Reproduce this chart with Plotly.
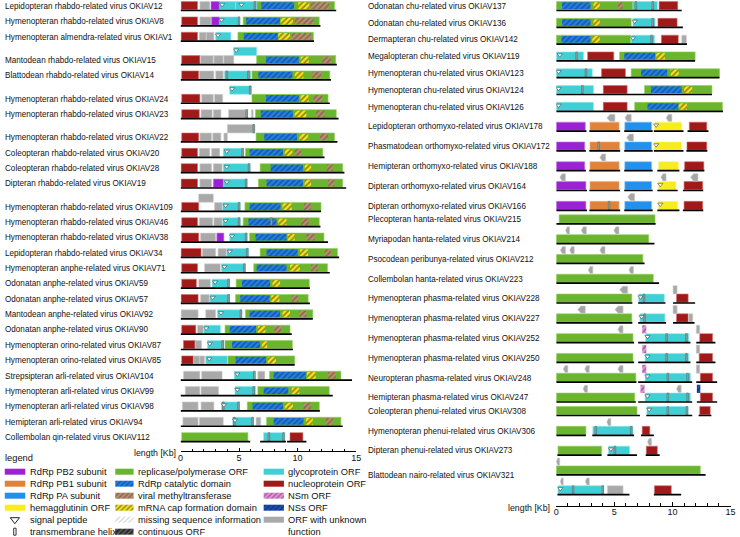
import plotly.graph_objects as go

# ----------------------------- DATA -----------------------------
LEFT_IDS = ["OKIAV12", "OKIAV8", "OKIAV1", "OKIAV15", "OKIAV14", "OKIAV24", "OKIAV23", "OKIAV22",
            "OKIAV20", "OKIAV28", "OKIAV19", "OKIAV109", "OKIAV46", "OKIAV38", "OKIAV34", "OKIAV71",
            "OKIAV59", "OKIAV57", "OKIAV92", "OKIAV90", "OKIAV87", "OKIAV85", "OKIAV104", "OKIAV99",
            "OKIAV98", "OKIAV94", "OKIAV112"]
LEFT_NAMES = ["Lepidopteran rhabdo-related virus OKIAV12", "Hymenopteran rhabdo-related virus OKIAV8",
              "Hymenopteran almendra-related virus OKIAV1", "Mantodean rhabdo-related virus OKIAV15",
              "Blattodean rhabdo-related virus OKIAV14", "Hymenopteran rhabdo-related virus OKIAV24",
              "Hymenopteran rhabdo-related virus OKIAV23", "Hymenopteran rhabdo-related virus OKIAV22",
              "Coleopteran rhabdo-related virus OKIAV20", "Coleopteran rhabdo-related virus OKIAV28",
              "Dipteran rhabdo-related virus OKIAV19", "Hymenopteran rhabdo-related virus OKIAV109",
              "Hymenopteran rhabdo-related virus OKIAV46", "Hymenopteran rhabdo-related virus OKIAV38",
              "Lepidopteran rhabdo-related virus OKIAV34", "Hymenopteran anphe-related virus OKIAV71",
              "Odonatan anphe-related virus OKIAV59", "Odonatan anphe-related virus OKIAV57",
              "Mantodean anphe-related virus OKIAV92", "Odonatan anphe-related virus OKIAV90",
              "Hymenopteran orino-related virus OKIAV87", "Hymenopteran orino-related virus OKIAV85",
              "Strepsipteran arli-related virus OKIAV104", "Hymenopteran arli-related virus OKIAV99",
              "Hymenopteran arli-related virus OKIAV98", "Hemipteran arli-related virus OKIAV94",
              "Collembolan qin-related virus OKIAV112"]
LEFT_UPPER = [0, 0, 0, 1, 0, 1, 0, 1, 0, 0, 0, 1, 0, 0, 0, 0, 0, 0, 0, 0, 0, 0, 0, 0, 0, 0, 0]

RIGHT_IDS = ["OKIAV137", "OKIAV136", "OKIAV142", "OKIAV119", "OKIAV123", "OKIAV124", "OKIAV126",
             "OKIAV178", "OKIAV172", "OKIAV188", "OKIAV164", "OKIAV166", "OKIAV215", "OKIAV214",
             "OKIAV212", "OKIAV223", "OKIAV228", "OKIAV227", "OKIAV252", "OKIAV250", "OKIAV248",
             "OKIAV247", "OKIAV308", "OKIAV306", "OKIAV273", "OKIAV321", "OKIAV321b"]
RIGHT_NAMES = ["Odonatan chu-related virus OKIAV137", "Odonatan chu-related virus OKIAV136",
               "Dermapteran chu-related virus OKIAV142", "Megalopteran chu-related virus OKIAV119",
               "Hymenopteran chu-related virus OKIAV123", "Hymenopteran chu-related virus OKIAV124",
               "Hymenopteran chu-related virus OKIAV126", "Lepidopteran orthomyxo-related virus OKIAV178",
               "Phasmatodean orthomyxo-related virus OKIAV172", "Hemipteran orthomyxo-related virus OKIAV188",
               "Dipteran orthomyxo-related virus OKIAV164", "Dipteran orthomyxo-related virus OKIAV166",
               "Plecopteran hanta-related virus OKIAV215", "Myriapodan hanta-related virus OKIAV214",
               "Psocodean peribunya-related virus OKIAV212", "Collembolan hanta-related virus OKIAV223",
               "Hymenopteran phasma-related virus OKIAV228", "Hymenopteran phasma-related virus OKIAV227",
               "Hymenopteran phasma-related virus OKIAV252", "Hymenopteran phasma-related virus OKIAV250",
               "Neuropteran phasma-related virus OKIAV248", "Hemipteran phasma-related virus OKIAV247",
               "Coleopteran phenui-related virus OKIAV308", "Hymenopteran phenui-related virus OKIAV306",
               "Dipteran phenui-related virus OKIAV273", "Blattodean nairo-related virus OKIAV321", ""]
RIGHT_UPPER = [0, 0, 0, 0, 0, 0, 0, 1, 1, 1, 1, 1, 0, 1, 1, 1, 1, 1, 1, 1, 1, 1, 0, 1, 1, 1, 1]

# genome segments (virus, start kb, end kb)
GENOME = [
    ("OKIAV12", 0, 13.3), ("OKIAV8", 0, 11.95), ("OKIAV1", 0, 11.4), ("OKIAV15", 0, 13.35),
    ("OKIAV14", 0, 12.85), ("OKIAV24", 0, 12.75), ("OKIAV23", 0, 13.5), ("OKIAV22", 0, 13.4),
    ("OKIAV20", 0, 12.3), ("OKIAV28", 0, 14.0), ("OKIAV19", 0, 14.15), ("OKIAV109", 0, 12.0),
    ("OKIAV46", 0, 11.95), ("OKIAV38", 0, 12.6), ("OKIAV34", 0, 13.55), ("OKIAV71", 0, 12.75),
    ("OKIAV59", 0, 11.05), ("OKIAV57", 0, 11.05), ("OKIAV92", 0, 11.3), ("OKIAV90", 0, 9.5),
    ("OKIAV87", 0, 9.6), ("OKIAV85", 0, 9.75), ("OKIAV104", 0, 14.65), ("OKIAV99", 0, 13.0),
    ("OKIAV98", 0, 11.9), ("OKIAV94", 0, 13.85),
    ("OKIAV112", 0, 5.95), ("OKIAV112", 6.8, 9.0), ("OKIAV112", 9.1, 10.75),
    ("OKIAV137", 0, 10.8), ("OKIAV136", 0, 10.9), ("OKIAV142", 0, 11.25), ("OKIAV119", 0, 11.95),
    ("OKIAV123", 0, 14.05), ("OKIAV124", 0, 13.4), ("OKIAV126", 0, 14.35),
    ("OKIAV178", 0, 2.6), ("OKIAV178", 2.85, 5.5), ("OKIAV178", 5.85, 8.3), ("OKIAV178", 8.4, 10.95), ("OKIAV178", 11.3, 13.1),
    ("OKIAV172", 0, 2.55), ("OKIAV172", 2.85, 5.5), ("OKIAV172", 5.85, 8.3), ("OKIAV172", 8.4, 10.95), ("OKIAV172", 11.2, 13.0),
    ("OKIAV188", 0, 2.55), ("OKIAV188", 2.85, 5.5), ("OKIAV188", 5.85, 8.3), ("OKIAV188", 8.7, 10.6), ("OKIAV188", 10.95, 12.75),
    ("OKIAV164", 0, 2.65), ("OKIAV164", 2.85, 5.5), ("OKIAV164", 5.85, 8.3), ("OKIAV164", 8.7, 10.45), ("OKIAV164", 10.9, 12.65),
    ("OKIAV166", 0, 2.65), ("OKIAV166", 2.85, 5.5), ("OKIAV166", 5.85, 8.3), ("OKIAV166", 8.7, 10.6), ("OKIAV166", 10.9, 12.65),
    ("OKIAV215", 0, 8.55), ("OKIAV214", 0, 8.45), ("OKIAV212", 0, 7.6), ("OKIAV223", 0, 8.85),
    ("OKIAV228", 0, 6.55), ("OKIAV228", 7.05, 9.4), ("OKIAV228", 10.05, 11.95),
    ("OKIAV227", 0, 6.55), ("OKIAV227", 7.05, 9.45), ("OKIAV227", 10.05, 11.9),
    ("OKIAV252", 0, 6.7), ("OKIAV252", 7.05, 11.55), ("OKIAV252", 12.05, 13.7),
    ("OKIAV250", 0, 6.7), ("OKIAV250", 7.05, 11.55), ("OKIAV250", 12.05, 13.7),
    ("OKIAV248", 0, 6.9), ("OKIAV248", 7.05, 11.7), ("OKIAV248", 12.05, 13.85),
    ("OKIAV247", 0, 6.85), ("OKIAV247", 7.05, 11.7), ("OKIAV247", 12.1, 13.85),
    ("OKIAV308", 0, 7.2), ("OKIAV308", 7.75, 11.7), ("OKIAV308", 12.25, 13.35),
    ("OKIAV306", 0, 2.55), ("OKIAV306", 3.1, 6.7), ("OKIAV306", 7.3, 8.4),
    ("OKIAV273", 0.1, 3.9), ("OKIAV273", 4.4, 6.95), ("OKIAV273", 7.7, 8.9),
    ("OKIAV321", 0, 12.85), ("OKIAV321b", 0.1, 6.3), ("OKIAV321b", 8.4, 10.75),
]

# nucleoprotein ORFs
NP_ORF = [
    ("OKIAV12", 0.05, 1.45), ("OKIAV8", 0.1, 1.45), ("OKIAV1", 0.05, 1.45), ("OKIAV15", 0.1, 1.65),
    ("OKIAV14", 0.1, 1.55), ("OKIAV24", 0.1, 1.65), ("OKIAV23", 0.1, 1.6), ("OKIAV22", 0.1, 1.55),
    ("OKIAV20", 0.1, 1.45), ("OKIAV28", 0.05, 1.45), ("OKIAV19", 0.05, 1.45), ("OKIAV109", 0.1, 1.55),
    ("OKIAV46", 0.1, 1.45), ("OKIAV38", 0.1, 1.55), ("OKIAV34", 0.05, 1.75), ("OKIAV71", 0.1, 1.45),
    ("OKIAV59", 0.1, 1.35), ("OKIAV57", 0.05, 1.5), ("OKIAV90", 0.1, 1.3), ("OKIAV87", 0.25, 1.25),
    ("OKIAV85", 0.1, 1.1), ("OKIAV112", 9.35, 10.45),
    ("OKIAV137", 8.85, 10.45), ("OKIAV136", 8.75, 10.4), ("OKIAV142", 9.05, 10.5), ("OKIAV119", 2.7, 4.95),
    ("OKIAV123", 3.9, 5.95), ("OKIAV124", 4.05, 6.1), ("OKIAV126", 4.05, 6.1), ("OKIAV178", 11.45, 12.95),
    ("OKIAV172", 11.25, 12.95), ("OKIAV188", 11.05, 12.7), ("OKIAV164", 11.0, 12.6), ("OKIAV166", 11.0, 12.6),
    ("OKIAV228", 10.35, 11.35), ("OKIAV227", 10.35, 11.35), ("OKIAV252", 12.35, 13.45),
    ("OKIAV250", 12.3, 13.45), ("OKIAV248", 12.4, 13.45), ("OKIAV247", 12.4, 13.45),
    ("OKIAV308", 12.35, 13.25), ("OKIAV306", 7.4, 8.05), ("OKIAV273", 7.75, 8.7), ("OKIAV321b", 8.45, 9.9),
]

# ORFs with unknown function (virus, start, end, lane)
UNK_ORF = [
    ("OKIAV12", 1.65, 2.5, 0), ("OKIAV8", 1.65, 2.6, 0), ("OKIAV1", 1.6, 2.2, 0), ("OKIAV1", 2.2, 2.85, 0),
    ("OKIAV15", 1.7, 2.8, 0), ("OKIAV15", 2.85, 3.65, 0), ("OKIAV15", 3.7, 4.55, 0),
    ("OKIAV14", 1.6, 2.85, 0), ("OKIAV14", 3.0, 3.65, 0), ("OKIAV24", 1.8, 2.8, 0), ("OKIAV24", 2.9, 3.6, 0),
    ("OKIAV23", 1.75, 2.7, 0), ("OKIAV23", 2.8, 3.45, 0), ("OKIAV23", 4.1, 5.75, 0), ("OKIAV23", 6.05, 6.2, 0),
    ("OKIAV22", 1.65, 2.65, 0), ("OKIAV22", 2.75, 3.45, 0), ("OKIAV22", 3.7, 4.0, 0), ("OKIAV22", 4.0, 6.35, 1),
    ("OKIAV20", 1.6, 2.5, 0), ("OKIAV20", 2.65, 3.35, 0), ("OKIAV28", 1.65, 2.65, 0), ("OKIAV28", 2.8, 3.55, 0),
    ("OKIAV19", 1.65, 2.65, 0), ("OKIAV109", 1.55, 2.8, 1), ("OKIAV109", 2.9, 3.55, 0),
    ("OKIAV46", 1.6, 2.75, 0), ("OKIAV46", 2.85, 3.55, 0), ("OKIAV38", 1.7, 3.0, 0),
    ("OKIAV34", 1.85, 3.0, 0), ("OKIAV34", 3.2, 3.9, 0), ("OKIAV71", 2.05, 3.4, 0), ("OKIAV59", 1.55, 2.55, 0),
    ("OKIAV57", 1.7, 2.45, 0), ("OKIAV92", 0.05, 1.5, 0), ("OKIAV92", 2.15, 3.0, 0), ("OKIAV90", 1.45, 1.95, 0),
    ("OKIAV87", 1.25, 1.8, 0), ("OKIAV85", 1.1, 1.65, 0), ("OKIAV85", 1.65, 2.05, 0),
    ("OKIAV104", 0.25, 1.65, 0), ("OKIAV104", 1.8, 3.55, 0), ("OKIAV104", 6.6, 7.2, 0),
    ("OKIAV99", 0.4, 1.65, 0), ("OKIAV99", 1.75, 3.25, 0), ("OKIAV98", 0.15, 1.5, 0), ("OKIAV98", 1.75, 2.85, 0),
    ("OKIAV94", 0.2, 1.5, 0), ("OKIAV94", 1.6, 3.65, 0), ("OKIAV94", 6.45, 6.85, 0),
    ("OKIAV142", 10.8, 11.2, 0), ("OKIAV227", 11.4, 11.75, 0), ("OKIAV321b", 4.4, 5.75, 0),
    ("OKIAV228", 10.05, 10.4, 1), ("OKIAV227", 10.05, 10.4, 1), ("OKIAV252", 12.05, 12.35, 1),
    ("OKIAV250", 12.05, 12.35, 1), ("OKIAV248", 12.05, 12.35, 1),
]

# glycoprotein ORFs (virus, start, end, lane)
GP_ORF = [
    ("OKIAV12", 3.3, 4.7, 0), ("OKIAV12", 4.7, 6.5, 0), ("OKIAV8", 3.3, 5.0, 0), ("OKIAV1", 3.0, 4.3, 0),
    ("OKIAV15", 4.55, 6.5, 1), ("OKIAV14", 3.75, 6.0, 0), ("OKIAV24", 4.2, 6.05, 1), ("OKIAV20", 3.65, 5.4, 0),
    ("OKIAV28", 3.65, 5.95, 0), ("OKIAV19", 3.7, 5.7, 0), ("OKIAV109", 3.6, 5.1, 0), ("OKIAV46", 3.6, 5.1, 0),
    ("OKIAV38", 4.2, 5.7, 0), ("OKIAV34", 3.95, 5.8, 0), ("OKIAV71", 3.5, 5.55, 0), ("OKIAV59", 2.7, 4.2, 0),
    ("OKIAV57", 2.5, 4.2, 0), ("OKIAV92", 3.15, 5.25, 0), ("OKIAV90", 2.0, 3.4, 0), ("OKIAV87", 2.3, 3.7, 0),
    ("OKIAV85", 2.15, 4.0, 0), ("OKIAV104", 4.6, 6.4, 0), ("OKIAV99", 4.65, 6.4, 0), ("OKIAV98", 3.5, 5.05, 0),
    ("OKIAV94", 4.45, 6.25, 0), ("OKIAV112", 7.1, 8.9, 0),
    ("OKIAV137", 6.6, 8.7, 0), ("OKIAV136", 6.6, 8.5, 0), ("OKIAV142", 6.45, 8.45, 0), ("OKIAV119", 0.0, 2.35, 0),
    ("OKIAV123", 0.0, 3.1, 0), ("OKIAV124", 0.0, 3.2, 0), ("OKIAV126", 0.0, 3.2, 0), ("OKIAV228", 7.1, 9.3, 0),
    ("OKIAV227", 7.2, 9.35, 0), ("OKIAV252", 7.7, 11.4, 0), ("OKIAV250", 7.65, 11.4, 0), ("OKIAV248", 7.65, 11.55, 0),
    ("OKIAV247", 7.65, 11.55, 0), ("OKIAV308", 7.8, 11.35, 0), ("OKIAV306", 3.15, 6.6, 0), ("OKIAV273", 4.5, 6.3, 0),
    ("OKIAV321b", 0.15, 4.1, 0),
]

# replicase / polymerase ORFs
REP_ORF = [
    ("OKIAV12", 6.5, 13.15), ("OKIAV8", 5.35, 11.85), ("OKIAV1", 4.9, 11.35), ("OKIAV15", 6.5, 13.25),
    ("OKIAV14", 6.1, 12.75), ("OKIAV24", 6.1, 12.6), ("OKIAV23", 6.4, 13.3), ("OKIAV22", 6.45, 13.15),
    ("OKIAV20", 5.55, 12.15), ("OKIAV28", 6.8, 13.85), ("OKIAV19", 6.65, 13.85), ("OKIAV109", 5.5, 12.0),
    ("OKIAV46", 5.35, 11.85), ("OKIAV38", 5.9, 12.25), ("OKIAV34", 6.8, 13.4), ("OKIAV71", 6.25, 12.55),
    ("OKIAV59", 4.75, 11.0), ("OKIAV57", 4.7, 10.9), ("OKIAV92", 5.55, 11.3), ("OKIAV90", 3.8, 9.35),
    ("OKIAV87", 3.8, 9.55), ("OKIAV85", 4.05, 9.75), ("OKIAV104", 7.6, 13.7), ("OKIAV99", 6.6, 12.7),
    ("OKIAV98", 5.7, 11.85), ("OKIAV94", 7.35, 13.7), ("OKIAV112", 0.1, 5.75),
    ("OKIAV137", 0, 6.6), ("OKIAV136", 0, 6.45), ("OKIAV142", 0, 6.4), ("OKIAV119", 5.45, 11.95),
    ("OKIAV123", 6.45, 14.05), ("OKIAV124", 7.6, 13.4), ("OKIAV126", 6.75, 14.3), ("OKIAV215", 0.25, 8.5),
    ("OKIAV214", 0, 7.95), ("OKIAV212", 0, 7.45), ("OKIAV223", 0, 8.35), ("OKIAV228", 0, 6.5),
    ("OKIAV227", 0, 6.5), ("OKIAV252", 0, 6.6), ("OKIAV250", 0, 6.6), ("OKIAV248", 0, 6.85),
    ("OKIAV247", 0, 6.75), ("OKIAV308", 0, 6.95), ("OKIAV306", 0, 2.55), ("OKIAV273", 0.15, 3.9),
    ("OKIAV321", 0, 12.4),
]

PB2_ORF = [("OKIAV12", 2.6, 3.3), ("OKIAV8", 2.65, 3.3), ("OKIAV19", 2.8, 3.65), ("OKIAV38", 3.1, 3.7),
           ("OKIAV178", 0, 2.5), ("OKIAV172", 0, 2.45), ("OKIAV188", 0, 2.45), ("OKIAV164", 0, 2.55),
           ("OKIAV166", 0, 2.55)]
PB1_ORF = [("OKIAV178", 2.9, 5.4), ("OKIAV172", 2.9, 5.45), ("OKIAV188", 2.9, 5.4), ("OKIAV164", 2.9, 5.4),
           ("OKIAV166", 2.9, 5.4)]
PA_ORF = [("OKIAV178", 5.9, 8.2), ("OKIAV172", 5.9, 8.2), ("OKIAV188", 5.9, 8.2), ("OKIAV164", 5.9, 8.2),
          ("OKIAV166", 5.9, 8.2)]
HA_ORF = [("OKIAV178", 8.45, 10.8), ("OKIAV172", 8.45, 10.8), ("OKIAV188", 8.8, 10.5), ("OKIAV164", 8.8, 10.3),
          ("OKIAV166", 8.8, 10.45)]

RDRP_DOM = [
    ("OKIAV12", 6.9, 9.7), ("OKIAV8", 5.6, 8.5), ("OKIAV1", 5.4, 8.3), ("OKIAV15", 7.3, 10.1),
    ("OKIAV14", 6.65, 9.55), ("OKIAV24", 7.3, 10.1), ("OKIAV23", 6.85, 9.6), ("OKIAV22", 7.15, 9.95),
    ("OKIAV20", 5.9, 8.75), ("OKIAV28", 7.7, 10.45), ("OKIAV19", 7.35, 10.45), ("OKIAV109", 5.9, 8.55),
    ("OKIAV46", 5.8, 8.2), ("OKIAV38", 6.4, 9.05), ("OKIAV34", 7.35, 10.0), ("OKIAV71", 6.5, 9.05),
    ("OKIAV59", 5.25, 7.65), ("OKIAV57", 5.1, 7.6), ("OKIAV92", 5.9, 8.5), ("OKIAV90", 4.2, 6.45),
    ("OKIAV87", 4.4, 6.8), ("OKIAV85", 4.7, 7.3), ("OKIAV104", 7.95, 10.7), ("OKIAV99", 7.1, 9.2),
    ("OKIAV98", 6.15, 8.75), ("OKIAV94", 7.95, 10.5),
    ("OKIAV137", 0.5, 2.95), ("OKIAV136", 0.5, 2.95), ("OKIAV142", 0.45, 2.95), ("OKIAV119", 5.85, 8.5),
    ("OKIAV123", 7.3, 9.55), ("OKIAV124", 8.15, 10.8), ("OKIAV126", 7.85, 10.5),
]
CAP_DOM = [
    ("OKIAV12", 10.05, 11.0), ("OKIAV8", 8.55, 9.6), ("OKIAV1", 8.35, 9.35), ("OKIAV15", 10.25, 10.95),
    ("OKIAV14", 9.75, 10.5), ("OKIAV24", 10.25, 10.95), ("OKIAV23", 9.75, 10.75), ("OKIAV22", 10.15, 10.9),
    ("OKIAV20", 8.9, 9.55), ("OKIAV28", 10.6, 11.15), ("OKIAV19", 10.6, 11.15), ("OKIAV109", 8.7, 9.5),
    ("OKIAV46", 8.35, 9.05), ("OKIAV38", 9.15, 9.75), ("OKIAV34", 10.2, 10.9), ("OKIAV71", 9.35, 10.2),
    ("OKIAV59", 7.85, 8.5), ("OKIAV57", 7.75, 8.45), ("OKIAV92", 8.7, 9.35), ("OKIAV90", 6.6, 7.25),
    ("OKIAV87", 6.95, 7.4), ("OKIAV85", 7.45, 8.15), ("OKIAV104", 10.8, 11.55), ("OKIAV99", 9.5, 10.15),
    ("OKIAV98", 8.9, 9.6), ("OKIAV94", 10.7, 11.3),
    ("OKIAV137", 3.2, 3.75), ("OKIAV136", 3.2, 3.75), ("OKIAV142", 3.1, 3.75), ("OKIAV119", 8.6, 9.35),
    ("OKIAV123", 9.85, 10.55), ("OKIAV124", 11.0, 11.7), ("OKIAV126", 10.55, 11.25),
]
MT_DOM = [
    ("OKIAV12", 11.1, 12.7), ("OKIAV8", 9.75, 11.35), ("OKIAV1", 9.5, 11.15), ("OKIAV15", 12.1, 12.85),
    ("OKIAV14", 11.25, 12.0), ("OKIAV24", 11.35, 12.1), ("OKIAV23", 11.6, 12.3), ("OKIAV22", 11.9, 12.6),
    ("OKIAV20", 9.75, 10.3), ("OKIAV28", 12.5, 13.0), ("OKIAV19", 12.6, 13.15), ("OKIAV109", 10.55, 11.15),
    ("OKIAV46", 10.3, 10.95), ("OKIAV38", 10.75, 11.45), ("OKIAV34", 12.3, 12.85), ("OKIAV71", 11.15, 11.75),
    ("OKIAV57", 9.5, 10.05), ("OKIAV92", 10.15, 10.75), ("OKIAV90", 8.0, 8.6), ("OKIAV104", 12.6, 13.25),
    ("OKIAV98", 10.5, 11.15), ("OKIAV94", 12.4, 13.0), ("OKIAV137", 5.3, 5.7),
]
NSM_ORF = [("OKIAV252", 7.4, 7.75), ("OKIAV250", 7.4, 7.75), ("OKIAV248", 7.4, 7.75), ("OKIAV247", 7.25, 7.6)]
NSS_ORF = [("OKIAV247", 12.1, 12.4)]

# signal peptides (virus, position kb, lane)
SIGNAL = [
    ("OKIAV12", 3.55, 0), ("OKIAV12", 5.2, 0), ("OKIAV8", 3.5, 0), ("OKIAV1", 3.2, 0), ("OKIAV15", 4.75, 1),
    ("OKIAV24", 4.4, 1), ("OKIAV20", 3.95, 0), ("OKIAV28", 3.95, 0), ("OKIAV19", 3.95, 0), ("OKIAV109", 3.85, 0),
    ("OKIAV46", 3.85, 0), ("OKIAV38", 4.4, 0), ("OKIAV34", 4.2, 0), ("OKIAV71", 3.75, 0), ("OKIAV59", 2.95, 0),
    ("OKIAV57", 2.75, 0), ("OKIAV92", 3.45, 0), ("OKIAV90", 2.2, 0), ("OKIAV87", 2.5, 0), ("OKIAV85", 2.45, 0),
    ("OKIAV104", 4.85, 0), ("OKIAV99", 4.85, 0), ("OKIAV98", 3.7, 0), ("OKIAV94", 4.65, 0),
    ("OKIAV136", 6.75, 0), ("OKIAV142", 6.6, 0), ("OKIAV119", 0.3, 0), ("OKIAV123", 0.2, 0), ("OKIAV124", 0.2, 0),
    ("OKIAV126", 0.2, 0), ("OKIAV178", 8.6, 0), ("OKIAV172", 8.6, 0), ("OKIAV164", 8.95, 0), ("OKIAV166", 8.95, 0),
    ("OKIAV228", 7.25, 0), ("OKIAV227", 7.35, 0), ("OKIAV252", 7.85, 0), ("OKIAV250", 7.85, 0),
    ("OKIAV248", 7.85, 0), ("OKIAV247", 7.85, 0), ("OKIAV308", 8.0, 0), ("OKIAV273", 4.7, 0), ("OKIAV321b", 0.35, 0),
]

# transmembrane helices (virus, position kb, lane)
TM_HELIX = [
    ("OKIAV12", 6.35, 0), ("OKIAV8", 5.0, 0), ("OKIAV14", 3.95, 0), ("OKIAV14", 5.8, 0), ("OKIAV24", 5.95, 1),
    ("OKIAV23", 5.65, 0), ("OKIAV22", 6.25, 1), ("OKIAV20", 5.3, 0), ("OKIAV28", 5.85, 0), ("OKIAV19", 5.6, 0),
    ("OKIAV109", 5.0, 0), ("OKIAV46", 5.0, 0), ("OKIAV46", 7.75, 0), ("OKIAV38", 5.6, 0), ("OKIAV34", 5.7, 0),
    ("OKIAV71", 5.45, 0), ("OKIAV59", 4.1, 0), ("OKIAV57", 4.1, 0), ("OKIAV92", 5.15, 0), ("OKIAV87", 3.6, 0),
    ("OKIAV104", 6.3, 0), ("OKIAV99", 6.25, 0), ("OKIAV98", 3.65, 0), ("OKIAV98", 4.95, 0), ("OKIAV94", 4.6, 0),
    ("OKIAV94", 6.15, 0), ("OKIAV112", 7.55, 0), ("OKIAV112", 8.8, 0),
    ("OKIAV137", 6.85, 0), ("OKIAV137", 8.3, 0), ("OKIAV136", 8.3, 0), ("OKIAV142", 8.2, 0), ("OKIAV119", 1.75, 0),
    ("OKIAV123", 2.55, 0), ("OKIAV124", 2.25, 0), ("OKIAV172", 3.65, 0), ("OKIAV166", 4.55, 0),
    ("OKIAV228", 7.55, 0), ("OKIAV227", 7.6, 0), ("OKIAV252", 9.5, 0), ("OKIAV252", 11.2, 0),
    ("OKIAV250", 9.5, 0), ("OKIAV250", 11.2, 0), ("OKIAV248", 9.6, 0), ("OKIAV248", 11.3, 0),
    ("OKIAV247", 9.6, 0), ("OKIAV247", 11.3, 0), ("OKIAV308", 9.6, 0), ("OKIAV308", 11.25, 0),
    ("OKIAV306", 3.4, 0), ("OKIAV306", 6.45, 0), ("OKIAV273", 5.05, 0), ("OKIAV321b", 1.45, 0), ("OKIAV321b", 4.0, 0),
]

# small reverse-orientation ORFs drawn as grey arrows above the genome (virus, start, end)
SMALL_ARROW = [
    ("OKIAV178", 4.35, 5.05), ("OKIAV178", 5.9, 6.45), ("OKIAV178", 9.45, 9.95), ("OKIAV172", 6.05, 6.65),
    ("OKIAV188", 3.75, 4.25), ("OKIAV164", 0.3, 0.8), ("OKIAV164", 9.0, 9.45), ("OKIAV164", 11.55, 12.2),
    ("OKIAV166", 6.15, 6.75), ("OKIAV214", 0.8, 1.15), ("OKIAV214", 2.15, 2.6), ("OKIAV214", 4.95, 5.4),
    ("OKIAV212", 0.35, 0.8), ("OKIAV212", 1.15, 1.55), ("OKIAV212", 3.75, 4.2), ("OKIAV223", 2.75, 3.15),
    ("OKIAV223", 6.25, 6.65), ("OKIAV228", 5.45, 6.15), ("OKIAV227", 1.85, 2.5), ("OKIAV227", 5.05, 5.75),
    ("OKIAV252", 5.3, 5.75), ("OKIAV248", 0.6, 1.0), ("OKIAV248", 2.45, 2.85), ("OKIAV248", 5.3, 5.75),
    ("OKIAV247", 2.3, 2.7), ("OKIAV247", 10.35, 10.75), ("OKIAV306", 4.35, 4.7), ("OKIAV273", 7.85, 8.2),
    ("OKIAV321", 0.0, 0.3), ("OKIAV321b", 0.35, 0.6), ("OKIAV321b", 2.5, 2.85),
]

AXIS_TICKS = [0, 5, 10, 15]
LEGEND_COL1 = ["RdRp PB2 subunit", "RdRp PB1 subunit", "RdRp PA subunit", "hemagglutinin ORF",
               "signal peptide", "transmembrane helix"]
LEGEND_COL2 = ["replicase/polymerase ORF", "RdRp catalytic domain", "viral methyltransferase",
               "mRNA cap formation domain", "missing sequence information", "continuous ORF"]
LEGEND_COL3 = ["glycoprotein ORF", "nucleoprotein ORF", "NSm ORF", "NSs ORF", "ORF with unknown", "function"]

# ----------------------------- STYLE / LAYOUT -----------------------------
W, H = 740, 537
FONT = "Liberation Sans, Arial, sans-serif"
LABEL_SIZE = 8.15
LEGEND_SIZE = 9.3
C_NP, C_UNK, C_GP, C_REP = "#a11a1a", "#a9a9a9", "#3fcfd5", "#6bb52e"
C_PB2, C_PB1, C_PA, C_HA = "#9b22d4", "#e0823a", "#2190ee", "#f6ec1e"
PAT = {
    "rdrp": ("#2180e2", "#0c2a6e", 0.38),
    "cap": ("#f3e31a", "#1e1e1e", 0.38),
    "mt": ("#b78f70", "#5a3c2a", 0.38),
    "nsm": ("#dc94d2", "#772070", 0.38),
    "nss": ("#1c4fb2", "#061540", 0.38),
    "miss": ("#ffffff", "#444444", 0.22),
    "cont": ("#2a2a2a", "#c8c8c8", 0.3),
}
BAR_H = 8.3
LANE_UP = 8.4

# row vertical positions (pixel units on the shared y axis)
POS = {}
y = 6.3
for i, (vid, up) in enumerate(zip(LEFT_IDS, LEFT_UPPER)):
    if i > 0:
        y += 15.35 + 8.0 * up
    POS[vid] = ("L", y)
y = 6.3
for i, (vid, up, nm) in enumerate(zip(RIGHT_IDS, RIGHT_UPPER, RIGHT_NAMES)):
    if i > 0:
        y += 16.8 if "chu-related" in nm else 13.5 + 6.3 * up
    POS[vid] = ("R", y)

AX = {"L": "x", "R": "x2"}

fig = go.Figure()


def center(vid, lane):
    p, yy = POS[vid]
    return p, yy - 0.6 - LANE_UP * lane


# genome lines
for panel in "LR":
    xs, ys = [], []
    for vid, s, e in GENOME:
        p, yy = POS[vid]
        if p != panel:
            continue
        xs += [s, e, None]
        ys += [yy + 4.2, yy + 4.2, None]
    fig.add_trace(go.Scatter(x=xs, y=ys, mode="lines", line=dict(color="black", width=1.7),
                             xaxis=AX[panel], yaxis="y", hoverinfo="skip", showlegend=False))


def add_bars(items, color, edge=None, pattern=None, height=BAR_H):
    for panel in "LR":
        xs, bs, ys = [], [], []
        for it in items:
            vid, s, e = it[0], it[1], it[2]
            lane = it[3] if len(it) > 3 else 0
            p, yc = center(vid, lane)
            if p != panel:
                continue
            bs.append(s)
            xs.append(e - s)
            ys.append(yc)
        if not xs:
            continue
        marker = dict(color=color, line=dict(color=edge or color, width=0.6 if edge else 0))
        if pattern:
            bg, fg, sol = PAT[pattern]
            marker = dict(color=bg, line=dict(width=0),
                          pattern=dict(shape="/", fgcolor=fg, size=4, solidity=sol))
        fig.add_trace(go.Bar(orientation="h", x=xs, base=bs, y=ys, width=height, marker=marker,
                             xaxis=AX[panel], yaxis="y", hoverinfo="skip", showlegend=False))


add_bars(REP_ORF, C_REP, "#8fcf5c")
add_bars(NP_ORF, C_NP, "#d56a6a")
add_bars(UNK_ORF, C_UNK, "#d0d0d0")
add_bars(GP_ORF, C_GP, "#8ee6ea")
add_bars(PB2_ORF, C_PB2, "#c27be6")
add_bars(PB1_ORF, C_PB1, "#f0b080")
add_bars(PA_ORF, C_PA, "#7fc0f6")
add_bars(HA_ORF, C_HA, "#f9f490")
add_bars(RDRP_DOM, None, pattern="rdrp", height=BAR_H - 1.6)
add_bars(CAP_DOM, None, pattern="cap", height=BAR_H - 1.6)
add_bars(MT_DOM, None, pattern="mt", height=BAR_H - 1.6)
add_bars([(v, s, e, 1) for v, s, e in NSM_ORF], None, pattern="nsm")
add_bars([(v, s, e, 1) for v, s, e in NSS_ORF], None, pattern="nss")

# transmembrane helices
add_bars([(v, p - 0.07, p + 0.07, ln) for v, p, ln in TM_HELIX], "#8ea3a3", "#5d6f6f")

# grey arrows (pentagon shaped)
for panel in "LR":
    xs, ys = [], []
    for vid, s, e in SMALL_ARROW:
        p, yc = center(vid, 1)
        if p != panel:
            continue
        h = 3.6
        k = s + 0.4 * (e - s)
        xs += [s, k, e, e, k, s, None]
        ys += [yc, yc - h, yc - h, yc + h, yc + h, yc, None]
    fig.add_trace(go.Scatter(x=xs, y=ys, mode="lines", fill="toself", fillcolor="#a6a6a6",
                             line=dict(color="#cfcfcf", width=0.6), xaxis=AX[panel], yaxis="y",
                             hoverinfo="skip", showlegend=False))

# signal peptides
for panel in "LR":
    xs, ys = [], []
    for vid, pos, lane in SIGNAL:
        p, yc = center(vid, lane)
        if p != panel:
            continue
        xs.append(pos)
        ys.append(yc - 1.2)
    fig.add_trace(go.Scatter(x=xs, y=ys, mode="markers",
                             marker=dict(symbol="triangle-down", size=4.5, color="white",
                                         line=dict(color="#4a4a4a", width=0.6)),
                             xaxis=AX[panel], yaxis="y", hoverinfo="skip", showlegend=False))

# ----------------------------- LEGEND (pixel coordinates on x3) -----------------------------
LEG_Y0, LEG_DY = 471.7, 12.0
col_x = [(1.8, 22.5, 26.5), (113.5, 132.0, 135.5), (263.5, 284.0, 287.5)]
sw_fill = [[C_PB2, C_PB1, C_PA, C_HA, None, None],
           [C_REP, "rdrp", "mt", "cap", "miss", "cont"],
           [C_GP, C_NP, "nsm", "nss", C_UNK, None]]
for ci, (texts, fills) in enumerate(zip([LEGEND_COL1, LEGEND_COL2, LEGEND_COL3], sw_fill)):
    x0, x1, xt = col_x[ci]
    for ri, (txt, f) in enumerate(zip(texts, fills)):
        yy = LEG_Y0 + LEG_DY * ri
        if f is not None:
            if f in PAT:
                bg, fg, sol = PAT[f]
                mk = dict(color=bg, line=dict(width=0),
                          pattern=dict(shape="/", fgcolor=fg, size=3.5, solidity=sol))
            else:
                mk = dict(color=f, line=dict(width=0))
            fig.add_trace(go.Bar(orientation="h", x=[x1 - x0], base=[x0], y=[yy], width=6.0, marker=mk,
                                 xaxis="x3", yaxis="y", hoverinfo="skip", showlegend=False))
        fig.add_annotation(x=xt, y=yy, xref="x3", yref="y", text=txt, showarrow=False,
                           xanchor="left", yanchor="middle", borderpad=0,
                           font=dict(size=LEGEND_SIZE, color="#111", family=FONT))

# legend symbols: signal peptide and transmembrane helix
fig.add_trace(go.Scatter(x=[12.0], y=[LEG_Y0 + 4 * LEG_DY], mode="markers",
                         marker=dict(symbol="triangle-down-open", size=8, color="#222", line=dict(width=1)),
                         xaxis="x3", yaxis="y", hoverinfo="skip", showlegend=False))
fig.add_trace(go.Bar(orientation="h", x=[2.4], base=[10.8], y=[LEG_Y0 + 5 * LEG_DY], width=7.0,
                     marker=dict(color="#ffffff", line=dict(color="#333", width=1)),
                     xaxis="x3", yaxis="y", hoverinfo="skip", showlegend=False))
fig.add_annotation(x=1, y=458.3, xref="x3", yref="y", text="legend", showarrow=False,
                   xanchor="left", yanchor="middle", borderpad=0,
                   font=dict(size=LEGEND_SIZE, color="#111", family=FONT))

# ----------------------------- ROW LABELS -----------------------------
for vid, nm in zip(LEFT_IDS, LEFT_NAMES):
    fig.add_annotation(x=1, y=POS[vid][1], xref="x3", yref="y", text=nm, showarrow=False,
                       xanchor="left", yanchor="middle", borderpad=0,
                       font=dict(size=LABEL_SIZE, color="#111", family=FONT))
for vid, nm in zip(RIGHT_IDS, RIGHT_NAMES):
    if not nm:
        continue
    yy = POS[vid][1] + (5.0 if vid == "OKIAV321" else 0)
    fig.add_annotation(x=367.5, y=yy, xref="x3", yref="y", text=nm, showarrow=False,
                       xanchor="left", yanchor="middle", borderpad=0,
                       font=dict(size=LABEL_SIZE, color="#111", family=FONT))

# axis titles
LEFT_AXIS_Y, RIGHT_AXIS_Y = 451.0, 505.5
fig.add_annotation(x=175.5, y=LEFT_AXIS_Y + 2.0, xref="x3", yref="y", text="length [Kb]", showarrow=False,
                   xanchor="right", yanchor="middle", borderpad=0,
                   font=dict(size=8.8, color="#111", family=FONT))
fig.add_annotation(x=554.0, y=RIGHT_AXIS_Y + 2.0, xref="x3", yref="y", text="length [Kb]", showarrow=False,
                   xanchor="right", yanchor="middle", borderpad=0,
                   font=dict(size=8.8, color="#111", family=FONT))

axis_common = dict(range=[0, 15], showgrid=False, zeroline=False, showline=True, linecolor="black",
                   linewidth=1, ticks="inside", ticklen=3.5, tickwidth=1, tickcolor="black",
                   tickvals=AXIS_TICKS, ticktext=[str(t) for t in AXIS_TICKS],
                   minor=dict(dtick=1, ticks="inside", ticklen=2.2, tickcolor="black", tickwidth=0.8),
                   ticklabelstandoff=-2,
                   tickfont=dict(size=9, color="#111", family=FONT), anchor="free", fixedrange=True)

fig.update_layout(
    width=W, height=H, margin=dict(l=0, r=0, t=0, b=0),
    paper_bgcolor="white", plot_bgcolor="rgba(0,0,0,0)", barmode="overlay",
    font=dict(family=FONT),
    xaxis=dict(domain=[179.5 / W, 357.0 / W], position=1 - LEFT_AXIS_Y / H, **axis_common),
    xaxis2=dict(domain=[559.3 / W, 735.5 / W], position=1 - RIGHT_AXIS_Y / H, **axis_common),
    xaxis3=dict(domain=[0, 1], range=[0, W], visible=False, anchor="y", fixedrange=True),
    yaxis=dict(domain=[0, 1], range=[H, 0], visible=False, fixedrange=True),
    showlegend=False,
)

fig.write_html("out.html", config={"displayModeBar": False},
               post_script="document.body.style.margin='0';document.body.style.padding='0';")
